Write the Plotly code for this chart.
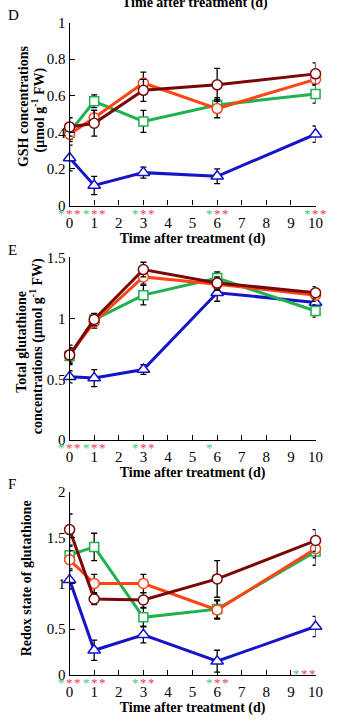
import plotly.graph_objects as go

W, H = 339, 725

days = [0, 1, 3, 6, 10]

# Panel D: GSH concentrations (umol g-1 FW)
gsh_blue = [0.26, 0.11, 0.18, 0.16, 0.39]
gsh_blue_err = [0.07, 0.05, 0.03, 0.04, 0.045]
gsh_green = [0.40, 0.57, 0.46, 0.55, 0.61]
gsh_green_err = [0.04, 0.035, 0.06, 0.04, 0.05]
gsh_orange = [0.39, 0.48, 0.67, 0.53, 0.69]
gsh_orange_err = [0.04, 0.04, 0.06, 0.05, 0.03]
gsh_maroon = [0.43, 0.45, 0.63, 0.66, 0.72]
gsh_maroon_err = [0.05, 0.07, 0.06, 0.09, 0.06]

# Panel E: Total glutathione concentrations (umol g-1 FW)
tot_blue = [0.52, 0.51, 0.58, 1.21, 1.13]
tot_blue_err = [0.05, 0.07, 0.04, 0.07, 0.05]
tot_green = [0.69, 0.99, 1.19, 1.33, 1.06]
tot_green_err = [0.06, 0.04, 0.08, 0.05, 0.05]
tot_orange = [0.70, 0.97, 1.34, 1.28, 1.19]
tot_orange_err = [0.06, 0.05, 0.06, 0.05, 0.05]
tot_maroon = [0.70, 0.99, 1.40, 1.29, 1.21]
tot_maroon_err = [0.08, 0.05, 0.06, 0.05, 0.05]

# Panel F: Redox state of glutathione
red_blue = [1.04, 0.27, 0.44, 0.15, 0.53]
red_blue_err = [0.10, 0.11, 0.09, 0.12, 0.11]
red_green = [1.31, 1.40, 0.63, 0.72, 1.35]
red_green_err = [0.10, 0.15, 0.10, 0.10, 0.15]
red_orange = [1.26, 1.00, 1.00, 0.71, 1.38]
red_orange_err = [0.10, 0.10, 0.10, 0.10, 0.10]
red_maroon = [1.59, 0.83, 0.82, 1.05, 1.47]
red_maroon_err = [0.17, 0.06, 0.08, 0.20, 0.12]

# significance marks (green "*" and red "**") per panel, at these days
sig_D_green = [0, 1, 3, 6, 10]
sig_D_red = [0, 1, 3, 6, 10]
sig_E_green = [0, 1, 3, 6]
sig_E_red = [0, 1, 3]
sig_F_green = [0, 1, 3, 6]
sig_F_red = [0, 1, 3, 6]
sig_F_inside = [10]   # drawn above the axis line

yticks_D = [0, 0.2, 0.4, 0.6, 0.8, 1]
yticks_D_text = ["0", "0.2", "0.4", "0.6", "0.8", "1"]
yticks_E = [0, 0.5, 1, 1.5]
yticks_E_text = ["0", "0.5", "1", "1.5"]
yticks_F = [0, 0.5, 1, 1.5, 2]
yticks_F_text = ["0", "0.5", "1", "1.5", "2"]

BLUE = "#1414c8"
GREEN = "#1fb04f"
ORANGE = "#ff4516"
MAROON = "#7a0606"
STAR_GREEN = "#3cc97c"
STAR_RED = "#f23a4e"
SERIF = "Liberation Serif, Times New Roman, serif"

fig = go.Figure()

panels = [
    ("", "y", [(gsh_blue, gsh_blue_err), (gsh_green, gsh_green_err),
               (gsh_orange, gsh_orange_err), (gsh_maroon, gsh_maroon_err)]),
    ("2", "y2", [(tot_blue, tot_blue_err), (tot_green, tot_green_err),
                 (tot_orange, tot_orange_err), (tot_maroon, tot_maroon_err)]),
    ("3", "y3", [(red_blue, red_blue_err), (red_green, red_green_err),
                 (red_orange, red_orange_err), (red_maroon, red_maroon_err)]),
]
styles = [(BLUE, "triangle-up", 11), (GREEN, "square", 9),
          (ORANGE, "circle", 10), (MAROON, "circle", 10)]

for suffix, yref, series in panels:
    for (vals, errs), (col, sym, sz) in zip(series, styles):
        fig.add_trace(go.Scatter(
            x=days, y=vals, xaxis="x" + suffix, yaxis=yref,
            mode="lines+markers", cliponaxis=False,
            line=dict(color=col, width=3),
            marker=dict(symbol=sym, size=sz, color="white",
                        line=dict(color=col, width=1.5)),
            error_y=dict(type="data", array=errs, visible=True,
                         color="black", thickness=1.3, width=3),
            showlegend=False,
        ))

def px_y(p):
    return 1 - p / H

def px_x(p):
    return p / W

xdom = [px_x(68), px_x(323)]
ydoms = [[px_y(202), px_y(15)], [px_y(442), px_y(255)], [px_y(682), px_y(495)]]
yranges = [[0, 1], [0, 1.5], [0, 2]]
yticks = [(yticks_D, yticks_D_text), (yticks_E, yticks_E_text), (yticks_F, yticks_F_text)]

axis_common = dict(showline=True, linecolor="black", linewidth=1.3,
                   ticks="inside", ticklen=5, tickcolor="black", tickwidth=1.3,
                   showgrid=False, zeroline=False,
                   tickfont=dict(family=SERIF, size=15, color="black"))

layout = dict(width=W, height=H, margin=dict(l=0, r=0, t=0, b=0),
              paper_bgcolor="white", plot_bgcolor="white", showlegend=False)
for i, suffix in enumerate(["", "2", "3"]):
    layout["xaxis" + suffix] = dict(
        axis_common, domain=xdom, range=[0, 10], anchor="y" + suffix,
        tickvals=list(range(11)), ticklabelstandoff=3,
        title=dict(text="<b>Time after treatment (d)</b>", standoff=2,
                   font=dict(family=SERIF, size=14, color="black")))
    layout["yaxis" + suffix] = dict(
        axis_common, domain=ydoms[i], range=yranges[i], anchor="x" + suffix,
        tickvals=yticks[i][0], ticktext=yticks[i][1])
fig.update_layout(**layout)

ann = []
def star(xa, ya, xv, color, xs, ys):
    ann.append(dict(x=xv, y=0, xref=xa, yref=ya, text="*", showarrow=False,
                    font=dict(family=SERIF, size=13, color=color),
                    xshift=xs, yshift=ys, yanchor="top"))

for suffix, g, r in [("", sig_D_green, sig_D_red), ("2", sig_E_green, sig_E_red),
                     ("3", sig_F_green, sig_F_red)]:
    xa, ya = "x" + suffix, "y" + suffix
    for d in g:
        star(xa, ya, d, STAR_GREEN, -8, 2)
    for d in r:
        star(xa, ya, d, STAR_RED, 0, 2)
        star(xa, ya, d, STAR_RED, 8, 2)
for d in sig_F_inside:
    star("x3", "y3", d, STAR_GREEN, -19, 11)
    star("x3", "y3", d, STAR_RED, -11, 11)
    star("x3", "y3", d, STAR_RED, -3, 11)

def txt(x, y, s, size=14, angle=0, bold=False, anchor="middle", xanchor="center"):
    ann.append(dict(x=px_x(x), y=px_y(y), xref="paper", yref="paper",
                    text=("<b>%s</b>" % s) if bold else s, showarrow=False,
                    textangle=angle, xanchor=xanchor, yanchor=anchor,
                    font=dict(family=SERIF, size=size, color="black")))

# panel letters
txt(2, 7, "D", size=15, xanchor="left")
txt(2, 247, "E", size=15, xanchor="left")
txt(2, 487, "F", size=15, xanchor="left")
# cut-off title of the panel above
txt(198, 5, "Time after treatment (d)", bold=True, anchor="bottom")
# y-axis titles
txt(20, 101, "GSH concentrations", bold=True, angle=-90)
txt(36, 104, "(μmol g<sup>-1</sup> FW)", bold=True, angle=-90)
txt(18, 341, "Total glutathione", bold=True, angle=-90)
txt(34, 346, "concentrations (μmol g<sup>-1</sup> FW)", bold=True, angle=-90)
txt(23, 583, "Redox state of glutathione", bold=True, angle=-90)

fig.update_layout(annotations=ann)
fig.write_html("out.html")
